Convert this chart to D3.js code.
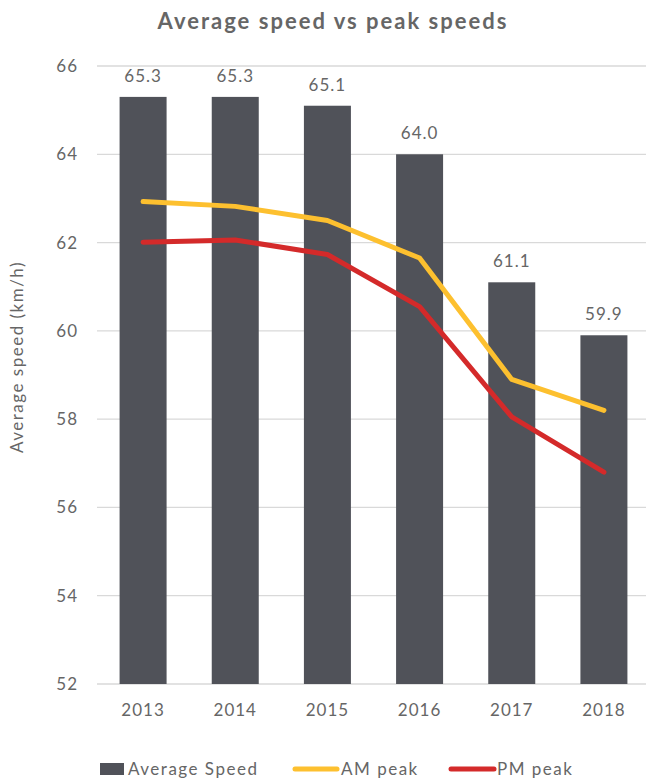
<!DOCTYPE html>
<html>
<head>
<meta charset="utf-8">
<script src="https://cdn.jsdelivr.net/npm/d3@7"></script>
<style>
  body { margin: 0; background: #fff; }
  text { font-family: Lato, "Open Sans", sans-serif; }
</style>
</head>
<body>
<div id="chart"></div>
<script>
/** data */
var years = ["2013", "2014", "2015", "2016", "2017", "2018"];
var avgSpeed = [65.3, 65.3, 65.1, 64.0, 61.1, 59.9];
var amPeak = [62.93, 62.82, 62.5, 61.65, 58.9, 58.2];
var pmPeak = [62.01, 62.06, 61.73, 60.55, 58.05, 56.8];
var yTicks = [52, 54, 56, 58, 60, 62, 64, 66];

var width = 646, height = 783;
var plotLeft = 97, plotRight = 650, plotTop = 66, plotBottom = 684;

var svg = d3.select("#chart")
  .append("svg")
    .attr("width", width)
    .attr("height", height);

/** scales */
var x = d3.scaleBand()
  .domain(years)
  .range([plotLeft, plotRight])
  .paddingInner(0.49)
  .paddingOuter(0.245);

var y = d3.scaleLinear()
  .domain([52, 66])
  .range([plotBottom, plotTop]);

/** gridlines */
svg.append("g")
  .selectAll("line")
  .data(yTicks)
  .enter()
  .append("line")
    .attr("x1", plotLeft)
    .attr("x2", width)
    .attr("y1", function(d) { return y(d); })
    .attr("y2", function(d) { return y(d); })
    .attr("stroke", "#d9d9d9")
    .attr("stroke-width", 1.3);

/** y axis labels */
var yAxis = svg.append("g")
  .attr("transform", "translate(" + (plotLeft - 19) + ",0)")
  .call(d3.axisLeft(y).tickValues(yTicks).tickSize(0).tickPadding(0));
yAxis.select(".domain").remove();
yAxis.selectAll("text")
  .attr("font-size", 17)
  .attr("letter-spacing", 1)
  .attr("fill", "#666");

/** x axis labels */
var xAxis = svg.append("g")
  .attr("transform", "translate(0," + plotBottom + ")")
  .call(d3.axisBottom(x).tickSize(0).tickPadding(20));
xAxis.select(".domain").remove();
xAxis.selectAll("text")
  .attr("font-size", 17)
  .attr("letter-spacing", 1)
  .attr("fill", "#666");

/** bars */
svg.append("g")
  .selectAll("rect")
  .data(avgSpeed)
  .enter()
  .append("rect")
    .attr("x", function(d, i) { return x(years[i]); })
    .attr("y", function(d) { return y(d); })
    .attr("width", x.bandwidth())
    .attr("height", function(d) { return plotBottom - y(d); })
    .attr("fill", "#505259");

/** bar value labels */
svg.append("g")
  .selectAll("text")
  .data(avgSpeed)
  .enter()
  .append("text")
    .attr("x", function(d, i) { return x(years[i]) + x.bandwidth() / 2; })
    .attr("y", function(d) { return y(d) - 15; })
    .attr("text-anchor", "middle")
    .attr("font-size", 17)
    .attr("letter-spacing", 1)
    .attr("fill", "#666")
    .text(function(d) { return d.toFixed(1); });

/** lines */
var line = d3.line()
  .x(function(d, i) { return x(years[i]) + x.bandwidth() / 2; })
  .y(function(d) { return y(d); });

svg.append("path")
  .datum(amPeak)
  .attr("d", line)
  .attr("fill", "none")
  .attr("stroke", "#FDC02F")
  .attr("stroke-width", 5)
  .attr("stroke-linecap", "round")
  .attr("stroke-linejoin", "round");

svg.append("path")
  .datum(pmPeak)
  .attr("d", line)
  .attr("fill", "none")
  .attr("stroke", "#D42A2A")
  .attr("stroke-width", 5)
  .attr("stroke-linecap", "round")
  .attr("stroke-linejoin", "round");

/** title */
svg.append("text")
  .attr("x", 333)
  .attr("y", 29)
  .attr("text-anchor", "middle")
  .attr("font-size", 22)
  .attr("font-weight", "bold")
  .attr("letter-spacing", 2)
  .attr("fill", "#666")
  .text("Average speed vs peak speeds");

/** y axis title */
svg.append("text")
  .attr("transform", "translate(23,357) rotate(-90)")
  .attr("text-anchor", "middle")
  .attr("font-size", 17)
  .attr("letter-spacing", 1.5)
  .attr("fill", "#666")
  .text("Average speed  (km/h)");

/** legend */
var legend = svg.append("g");
legend.append("rect")
  .attr("x", 100).attr("y", 763)
  .attr("width", 24).attr("height", 12)
  .attr("fill", "#505259");
legend.append("text")
  .attr("x", 128).attr("y", 775)
  .attr("font-size", 17).attr("letter-spacing", 1.5).attr("fill", "#666")
  .text("Average Speed");

legend.append("line")
  .attr("x1", 295).attr("x2", 337)
  .attr("y1", 769).attr("y2", 769)
  .attr("stroke", "#FDC02F").attr("stroke-width", 5)
  .attr("stroke-linecap", "round");
legend.append("text")
  .attr("x", 341).attr("y", 775)
  .attr("font-size", 17).attr("letter-spacing", 1.5).attr("fill", "#666")
  .text("AM peak");

legend.append("line")
  .attr("x1", 451).attr("x2", 494)
  .attr("y1", 769).attr("y2", 769)
  .attr("stroke", "#D42A2A").attr("stroke-width", 5)
  .attr("stroke-linecap", "round");
legend.append("text")
  .attr("x", 497).attr("y", 775)
  .attr("font-size", 17).attr("letter-spacing", 1.5).attr("fill", "#666")
  .text("PM peak");
</script>
</body>
</html>
